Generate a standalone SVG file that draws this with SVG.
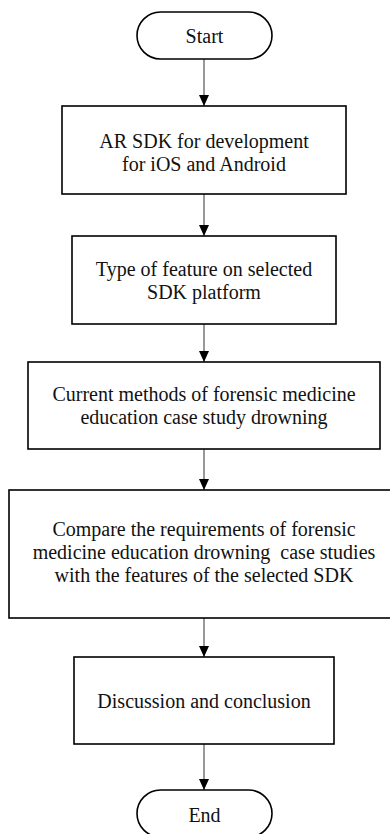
<svg xmlns="http://www.w3.org/2000/svg" width="390" height="834" viewBox="0 0 390 834">
<style>
.box{fill:#fff;stroke:#000;stroke-width:1.6}
.term{fill:#fff;stroke:#000;stroke-width:1.6}
.t{font-family:"Liberation Serif","Times New Roman",serif;font-size:20px;fill:#111;text-anchor:middle}
.c{stroke:#555;stroke-width:1.2;fill:none}
</style>
<defs>
<marker id="ah" markerWidth="11" markerHeight="10" refX="11" refY="5" orient="auto" markerUnits="userSpaceOnUse">
<path d="M0,0 L11,5 L0,10 Z" fill="#000"/>
</marker>
</defs>
<rect width="390" height="834" fill="#fff"/>
<g id="connectors">
<line class="c" x1="204" y1="59" x2="204" y2="106" marker-end="url(#ah)"/>
<line class="c" x1="204" y1="194" x2="204" y2="236" marker-end="url(#ah)"/>
<line class="c" x1="204" y1="324" x2="204" y2="362" marker-end="url(#ah)"/>
<line class="c" x1="204" y1="449" x2="204" y2="490" marker-end="url(#ah)"/>
<line class="c" x1="204" y1="618" x2="204" y2="657" marker-end="url(#ah)"/>
<line class="c" x1="204" y1="744" x2="204" y2="790" marker-end="url(#ah)"/>
</g>
<g id="start">
<rect class="term" x="137" y="12" width="135" height="47" rx="23.5"/>
<text class="t" x="204.5" y="43">Start</text>
</g>
<g id="sdk">
<rect class="box" x="62" y="106" width="284" height="88"/>
<text class="t" x="204" y="148">AR SDK for development</text>
<text class="t" x="204" y="171">for iOS and Android</text>
</g>
<g id="feature">
<rect class="box" x="72" y="236" width="264" height="88"/>
<text class="t" x="204" y="276">Type of feature on selected</text>
<text class="t" x="204" y="299">SDK platform</text>
</g>
<g id="methods">
<rect class="box" x="28" y="362" width="352" height="87"/>
<text class="t" x="204" y="401">Current methods of forensic medicine</text>
<text class="t" x="204" y="424">education case study drowning</text>
</g>
<g id="compare">
<rect class="box" x="9" y="490" width="390" height="128"/>
<text class="t" x="204" y="536">Compare the requirements of forensic</text>
<text class="t" x="204" y="559" xml:space="preserve">medicine education drowning  case studies</text>
<text class="t" x="204" y="582">with the features of the selected SDK</text>
</g>
<g id="discussion">
<rect class="box" x="74" y="657" width="260" height="87"/>
<text class="t" x="204" y="708">Discussion and conclusion</text>
</g>
<g id="end">
<rect class="term" x="137" y="790" width="135" height="47" rx="23.5"/>
<text class="t" x="204.5" y="822">End</text>
</g>
</svg>
